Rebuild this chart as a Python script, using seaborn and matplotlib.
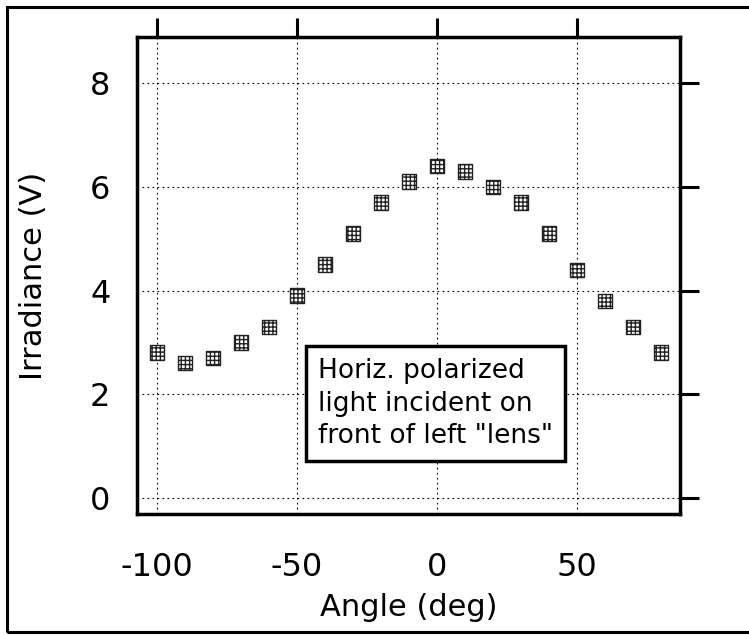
import matplotlib
matplotlib.use("Agg")
import matplotlib.pyplot as plt
from matplotlib.patches import Rectangle
import seaborn as sns
import pandas as pd

# Measured irradiance versus polarizer angle
angle_deg = [-100, -90, -80, -70, -60, -50, -40, -30, -20, -10,
             0, 10, 20, 30, 40, 50, 60, 70, 80]
irradiance_v = [2.8, 2.6, 2.7, 3.0, 3.3, 3.9, 4.5, 5.1, 5.7, 6.1,
                6.4, 6.3, 6.0, 5.7, 5.1, 4.4, 3.8, 3.3, 2.8]
x_ticks = [-100, -50, 0, 50]
y_ticks = [0, 2, 4, 6, 8]
note_text = 'Horiz. polarized\nlight incident on\nfront of left "lens"'

df = pd.DataFrame({"Angle (deg)": angle_deg, "Irradiance (V)": irradiance_v})

sns.set_style("white")
plt.rcParams["font.family"] = ["DejaVu Sans"]
plt.rcParams["hatch.linewidth"] = 1.0
plt.rcParams["axes.unicode_minus"] = False
for key in ("text.color", "axes.labelcolor", "xtick.color", "ytick.color"):
    plt.rcParams[key] = "black"

fig = plt.figure(figsize=(7.49, 6.35), dpi=100)
W, H = 749, 635
ax = fig.add_axes([137 / W, 1 - 514 / H, (680 - 137) / W, (514 - 37) / H])

sns.scatterplot(data=df, x="Angle (deg)", y="Irradiance (V)", ax=ax,
                marker="s", s=110, facecolor="white", edgecolor="#222222",
                linewidth=1.0, hatch="++++", zorder=3)

ax.set_xlim(-107.1, 86.8)
ax.set_ylim(-0.31, 8.89)
ax.set_xticks(x_ticks)
ax.set_yticks(y_ticks)
ax.set_xticklabels([str(t) for t in x_ticks])
ax.set_yticklabels([str(t) for t in y_ticks])

ax.grid(True, linestyle=(0, (1.5, 3)), color="black", linewidth=0.8)
for sp in ax.spines.values():
    sp.set_visible(True)
    sp.set_color("black")
    sp.set_linewidth(2.5)

ax.tick_params(axis="both", which="major", direction="out", length=14,
               width=2.2, color="black", labelsize=23,
               top=True, right=True, labeltop=False, labelright=False)
ax.tick_params(axis="x", pad=13.5)
ax.tick_params(axis="y", pad=5)
ax.set_xlabel("Angle (deg)", fontsize=22, labelpad=7)
ax.set_ylabel("Irradiance (V)", fontsize=22, labelpad=30)

ax.text(-42.5, 1.82, note_text, fontsize=19, linespacing=1.33,
        ha="left", va="center", zorder=4,
        bbox=dict(boxstyle="square,pad=0.45", facecolor="white",
                  edgecolor="black", linewidth=2.5))

# Outer frame around the figure
fig.patches.append(Rectangle((7 / W, 3 / H), 1.2, 1 - 10 / H,
                             transform=fig.transFigure, fill=False,
                             edgecolor="black", linewidth=2.2))

fig.savefig("out.png", dpi=100, facecolor="white")
